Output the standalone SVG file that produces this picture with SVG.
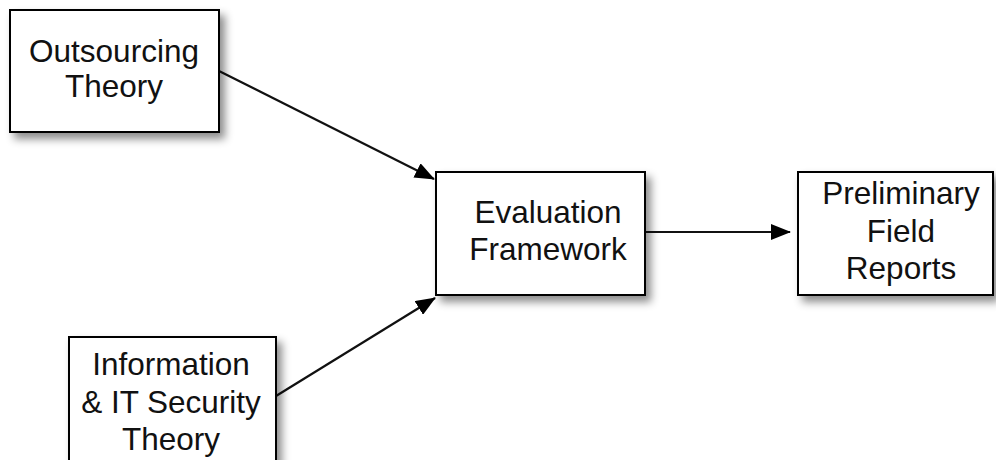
<svg xmlns="http://www.w3.org/2000/svg" width="996" height="460" viewBox="0 0 996 460">
<style>
.box{fill:#fff;stroke:#000;stroke-width:2;filter:url(#sh)}
.t{font-family:"Liberation Sans",Arial,sans-serif;font-size:31.5px;fill:#111;text-anchor:middle}
.c{stroke:#111;stroke-width:2.2;fill:none;marker-end:url(#ah)}
</style>
<defs>
<filter id="sh" x="-20%" y="-20%" width="140%" height="150%">
<feDropShadow dx="5" dy="6" stdDeviation="4" flood-color="#000" flood-opacity="0.45"/>
</filter>
<marker id="ah" viewBox="0 0 20 16" refX="19" refY="8" markerWidth="20" markerHeight="16" markerUnits="userSpaceOnUse" orient="auto">
<path d="M0,0 L20,8 L0,16 Z" fill="#000"/>
</marker>
</defs>
<rect width="996" height="460" fill="#fff"/>
<g id="connectors">
<line class="c" x1="219" y1="71" x2="434" y2="179"/>
<line class="c" x1="276" y1="396" x2="435" y2="298"/>
<line class="c" x1="645" y1="232" x2="790" y2="232"/>
</g>
<g id="outsourcing">
<rect class="box" x="10" y="10" width="209" height="122"/>
<text class="t" x="114" y="62">Outsourcing</text>
<text class="t" x="114" y="97">Theory</text>
</g>
<g id="evaluation">
<rect class="box" x="436" y="172" width="209" height="123"/>
<text class="t" x="548" y="223">Evaluation</text>
<text class="t" x="548" y="260">Framework</text>
</g>
<g id="preliminary">
<rect class="box" x="798" y="172" width="195" height="123"/>
<text class="t" x="901" y="204">Preliminary</text>
<text class="t" x="901" y="242">Field</text>
<text class="t" x="901" y="279">Reports</text>
</g>
<g id="information">
<rect class="box" x="69" y="337" width="207" height="140"/>
<text class="t" x="171" y="375">Information</text>
<text class="t" x="171" y="413">&amp; IT Security</text>
<text class="t" x="171" y="450">Theory</text>
</g>
</svg>
